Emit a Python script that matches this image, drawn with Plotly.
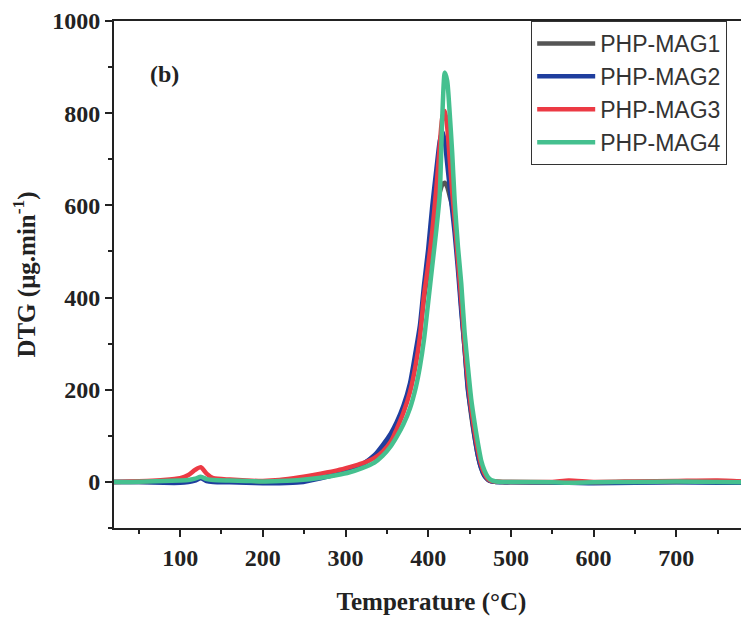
import plotly.graph_objects as go

temperature = [20, 40, 60, 80, 100, 110, 118, 125, 132, 140, 160, 180, 200, 220, 245, 270, 290, 305,
               320, 335, 345, 355, 362, 370, 378, 385, 390, 395, 400, 405, 410, 414, 417, 420, 423,
               426, 429, 432, 436, 440, 444, 448, 452, 456, 460, 464, 468, 472, 476, 482, 490, 500,
               550, 570, 600, 650, 700, 750, 790]

mag1 = [0, 0, 0, 0, 0, 2, 5, 10, 4, 2, 1, 0, -1, 0, 3, 10, 18, 27,
        38, 56, 76, 100, 122, 158, 205, 270, 325, 400, 460, 525, 595, 628, 645, 649, 640,
        620, 598, 560, 480, 380, 290, 205, 145, 98, 58, 30, 13, 5, 2, 0, 0, 0,
        -1, 0, -1, 0, 0, 1, 0]

mag2 = [0, 0, -1, -2, -2, 0, 3, 8, 2, 0, -1, -2, -3, -3, -1, 8, 17, 26,
        38, 58, 80, 106, 130, 165, 214, 285, 340, 428, 505, 600, 680, 740, 761, 740, 690,
        640, 590, 540, 460, 370, 290, 200, 150, 100, 58, 30, 13, 5, 1, 0, -1, -1,
        -2, -2, -3, -2, -1, -2, -2]

mag3 = [0, 1, 2, 4, 8, 15, 26, 32, 18, 8, 5, 3, 2, 4, 10, 18, 25, 32,
        40, 52, 66, 88, 115, 150, 195, 255, 315, 405, 470, 545, 640, 730, 790, 805, 770,
        700, 630, 570, 480, 395, 300, 222, 160, 112, 70, 38, 18, 7, 2, 1, 0, 0,
        0, 3, 0, 1, 2, 3, 0]

mag4 = [0, 0, 1, 2, 3, 4, 7, 11, 6, 4, 3, 2, 1, 2, 4, 9, 15, 21,
        30, 42, 57, 78, 98, 125, 160, 205, 250, 310, 390, 470, 550, 625, 790, 888, 870,
        800, 715, 610, 510, 430, 325, 250, 180, 130, 85, 47, 25, 11, 4, 1, 0, 0,
        -1, -2, -1, 0, 1, 0, -1]

series_names = ["PHP-MAG1", "PHP-MAG2", "PHP-MAG3", "PHP-MAG4"]
series_values = [mag1, mag2, mag3, mag4]
series_colors = ["#555555", "#1f3e9e", "#ec3a44", "#45c08f"]

x_ticks = [100, 200, 300, 400, 500, 600, 700]
y_ticks = [0, 200, 400, 600, 800, 1000]

fig = go.Figure()
for name, vals, col in zip(series_names, series_values, series_colors):
    fig.add_trace(go.Scatter(x=temperature, y=vals, mode="lines", name=name,
                             line=dict(color=col, width=4.5, shape="spline", smoothing=0.6)))

serif = "Liberation Serif"
ink = "#222222"
fig.update_layout(
    width=741, height=617,
    margin=dict(l=106, r=0, t=5, b=97),
    plot_bgcolor="white", paper_bgcolor="white",
    legend=dict(x=0.657, y=1.0, xanchor="left", yanchor="top",
                font=dict(family="Liberation Sans", size=23, color="#333333"),
                bordercolor="#333333", borderwidth=1, bgcolor="white",
                itemwidth=58, tracegroupgap=0),
    annotations=[dict(text="(b)", x=0.080, y=0.895, xref="paper", yref="paper",
                      showarrow=False, xanchor="center", yanchor="middle",
                      font=dict(family=serif, size=24, color=ink, weight="bold"))],
)
fig.update_xaxes(
    range=[20, 788], tickmode="array", tickvals=x_ticks, ticktext=[str(v) for v in x_ticks],
    showline=True, linecolor=ink, linewidth=2, mirror=True,
    ticks="outside", ticklen=7, tickwidth=2, tickcolor=ink,
    minor=dict(dtick=50, tick0=0, ticks="outside", ticklen=4, tickwidth=2, tickcolor=ink),
    showgrid=False, zeroline=False, ticklabeloverflow="allow",
    tickfont=dict(family=serif, size=24, color=ink, weight="bold"),
    title=dict(text="Temperature (°C)", standoff=23,
               font=dict(family=serif, size=25, color=ink, weight="bold")),
)
fig.update_yaxes(
    range=[-100, 1000], tickmode="array", tickvals=y_ticks, ticktext=[str(v) for v in y_ticks],
    showline=True, linecolor=ink, linewidth=2, mirror=False,
    ticks="outside", ticklen=7, tickwidth=2, tickcolor=ink,
    minor=dict(dtick=100, tick0=0, ticks="outside", ticklen=4, tickwidth=2, tickcolor=ink),
    showgrid=False, zeroline=False, ticklabeloverflow="allow",
    tickfont=dict(family=serif, size=24, color=ink, weight="bold"),
    title=dict(text="DTG (μg.min<sup>-1</sup>)", standoff=14,
               font=dict(family=serif, size=25, color=ink, weight="bold")),
)
fig.write_html("out.html")
